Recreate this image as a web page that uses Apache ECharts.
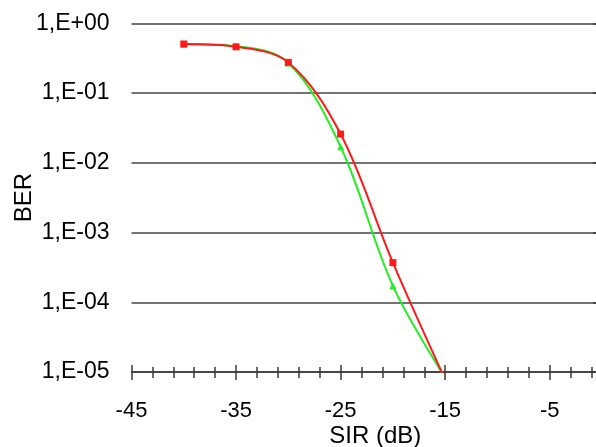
<!DOCTYPE html>
<html>
<head>
<meta charset="utf-8">
<script src="https://cdn.jsdelivr.net/npm/echarts@6/dist/echarts.min.js"></script>
<style>html,body{margin:0;padding:0;background:#fff}#c{width:596px;height:447px}</style>
</head>
<body>
<div id="c"></div>
<script>
// SIR (dB) sample points
var sir = [-40, -35, -30, -25, -20, -15];
// BER, red curve (squares)
var berRed = [0.505, 0.46, 0.275, 0.0258, 3.7e-4, 7.8e-6];
// BER, green curve (triangles)
var berGreen = [0.50, 0.47, 0.27, 0.017, 1.72e-4, 8.3e-6];
// x axis tick positions
var xMajor = [-45, -35, -25, -15, -5];
var xMinor = [-45,-43,-41,-39,-37,-35,-33,-31,-29,-27,-25,-23,-21,-19,-17,-15,-13,-11,-9,-7,-5,-3,-1];

var FONT = 'Liberation Sans';
var AX = '#3a3a3a';

function pairs(xs, ys){ return xs.map(function(x,i){ return [x, ys[i]]; }); }

function xAx(opts){
  var base = {
    type: 'value', min: -45, max: 0, gridIndex: 0, position: 'bottom',
    splitLine: {show: false},
    axisLine: {show: false},
    axisLabel: {show: false},
    axisTick: {show: false}
  };
  for (var k in opts) base[k] = opts[k];
  return base;
}

var chart = echarts.init(document.getElementById('c'), null, {renderer: 'canvas'});
chart.setOption({
  animation: false,
  backgroundColor: '#ffffff',
  grid: {left: 131.5, top: 23.3, right: -6, bottom: 75, containLabel: false, outerBoundsMode: 'none'},
  xAxis: [
    xAx({
      axisLine: {show: true, lineStyle: {color: AX, width: 1.5}},
      axisTick: {show: true, customValues: xMinor, length: 6, lineStyle: {color: AX, width: 1.5}},
      axisLabel: {show: true, customValues: xMajor, margin: 28, color: '#000', fontFamily: FONT, fontSize: 22},
      name: 'SIR (dB)', nameLocation: 'middle', nameGap: 52, nameMoveOverlap: false,
      nameTextStyle: {color: '#000', fontFamily: FONT, fontSize: 24, padding: [0, 0, 0, 17]}
    }),
    xAx({axisTick: {show: true, inside: true, customValues: xMinor, length: 5, lineStyle: {color: AX, width: 1.5}}}),
    xAx({axisTick: {show: true, customValues: xMajor, length: 8, lineStyle: {color: AX, width: 1.5}}}),
    xAx({axisTick: {show: true, inside: true, customValues: xMajor, length: 7, lineStyle: {color: AX, width: 1.5}}})
  ],
  yAxis: {
    type: 'log', logBase: 10, min: 1e-5, max: 1,
    axisLine: {show: true, lineStyle: {color: AX, width: 1.2}},
    axisTick: {show: true, length: 9, lineStyle: {color: AX, width: 1.5}},
    splitLine: {show: true, lineStyle: {color: '#444', width: 1.5}},
    minorTick: {show: false},
    axisLabel: {
      margin: 22, color: '#000', fontFamily: FONT, fontSize: 23,
      formatter: function(v){
        var e = Math.round(Math.log10(v));
        var s = e < 0 ? '-' : '+';
        var a = Math.abs(e);
        return '1,E' + s + (a < 10 ? '0' + a : a);
      }
    },
    name: 'BER', nameLocation: 'middle', nameGap: 95, nameMoveOverlap: false,
    nameTextStyle: {color: '#000', fontFamily: FONT, fontSize: 24}
  },
  series: [
    {
      name: 'green', type: 'line', xAxisIndex: 0, data: pairs(sir, berGreen),
      smooth: 0.35, clip: true,
      symbol: 'triangle', symbolSize: 7,
      lineStyle: {color: '#22ee22', width: 2},
      itemStyle: {color: '#22ee22'}
    },
    {
      name: 'red', type: 'line', xAxisIndex: 0, data: pairs(sir, berRed),
      smooth: 0.35, clip: true,
      symbol: 'rect', symbolSize: 7,
      lineStyle: {color: '#ff1a1a', width: 2},
      itemStyle: {color: '#ff1a1a'}
    }
  ]
});
</script>
</body>
</html>
